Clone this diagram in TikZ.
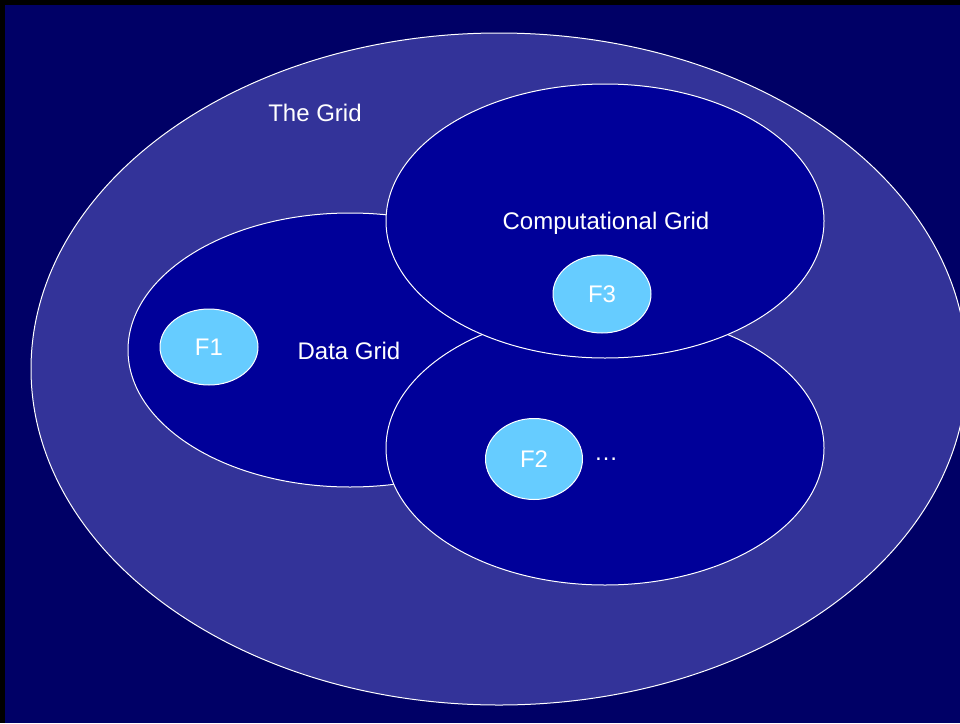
\documentclass[tikz,border=0pt]{standalone}
\usepackage{fontspec}
\setmainfont{Liberation Sans}
\usetikzlibrary{shapes.geometric}
\definecolor{bgblue}{HTML}{000066}
\definecolor{outerfill}{HTML}{333399}
\definecolor{innerfill}{HTML}{000099}
\definecolor{smallfill}{HTML}{66CCFF}
\tikzset{
  outerell/.style={draw=white, line width=1pt, fill=outerfill},
  gridell/.style={draw=white, line width=1pt, fill=innerfill},
  fed/.style={ellipse, draw=white, line width=1pt, fill=smallfill, text=white, inner sep=0pt},
  lbl/.style={text=white, font=\fontsize{24}{28}\selectfont, inner sep=0pt}
}
\begin{document}
\begin{tikzpicture}[x=1pt, y=-1pt]
\useasboundingbox (0,0) rectangle (960,723);
\fill[black] (0,0) rectangle (960,723);
\fill[bgblue] (5,5) rectangle (960,723);
% outer ellipse
\begin{scope}
\clip (0,0) rectangle (960,723);
\path[outerell] (499,369) ellipse [x radius=468, y radius=336];
\end{scope}
% inner ellipses
\path[gridell] (350,350) ellipse [x radius=222, y radius=137];
\path[gridell] (605,448) ellipse [x radius=219, y radius=137];
\path[gridell] (605,221) ellipse [x radius=219, y radius=137];
% labels
\node[lbl] (thegrid) at (315,113) {The Grid};
\node[lbl] (compgrid) at (606,223) {Computational Grid};
\node[lbl] (datagrid) at (349,351) {Data Grid};
% federation ellipses
\node[fed, minimum width=98pt, minimum height=76pt, font=\fontsize{24}{28}\selectfont] (f1) at (209,347) {F1};
\node[fed, minimum width=98pt, minimum height=78pt, font=\fontsize{24}{28}\selectfont] (f3) at (602,294) {F3};
\node[fed, minimum width=97pt, minimum height=81pt, font=\fontsize{24}{28}\selectfont] (f2) at (534,459) {F2};
\node[lbl] (dots) at (606,459) {\textellipsis};
\end{tikzpicture}
\end{document}
